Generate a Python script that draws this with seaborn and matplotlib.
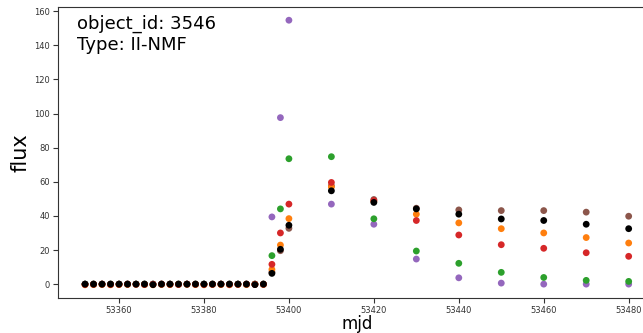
import numpy as np
import pandas as pd
import matplotlib
matplotlib.use("Agg")
import matplotlib.pyplot as plt
import seaborn as sns

# Observation epochs (mjd)
mjd = [53352, 53354, 53356, 53358, 53360, 53362, 53364, 53366, 53368, 53370,
       53372, 53374, 53376, 53378, 53380, 53382, 53384, 53386, 53388, 53390,
       53392, 53394, 53396, 53398, 53400, 53410, 53420, 53430, 53440, 53450,
       53460, 53470, 53480]

early_zero = [0.0] * 22

flux_purple = early_zero + [39.4, 97.6, 154.7, 46.9, 35.1, 14.7, 3.7, 0.6, 0.0, 0.0, 0.0]
flux_green = early_zero + [16.7, 44.1, 73.5, 74.7, 38.3, 19.4, 12.2, 6.9, 3.9, 2.2, 1.6]
flux_brown = early_zero + [7.0, 19.6, 32.7, 57.6, 49.6, 44.5, 43.5, 43.1, 43.1, 42.2, 39.8]
flux_orange = [-0.4, -0.3, -0.2, -0.4, -0.3, -0.2, -0.1, -0.3, -0.4, -0.2, -0.3,
               -0.2, -0.1, -0.3, -0.4, -0.2, -0.3, -0.4, -0.2, -0.3, -0.1, -0.2,
               8.6, 22.9, 38.4, 57.0, 48.5, 41.0, 35.9, 32.5, 30.0, 27.3, 24.1]
flux_red = [-0.2, -0.1, 0.0, -0.2, -0.1, 0.0, -0.1, -0.2, -0.1, 0.0, -0.1,
            -0.2, 0.0, -0.1, -0.2, -0.1, 0.0, -0.2, -0.1, 0.0, -0.2, -0.1,
            11.6, 30.0, 46.9, 59.6, 49.0, 37.3, 28.8, 23.1, 21.0, 18.4, 16.3]
flux_black = [0.0, 0.0, 0.0, 0.0, 0.0, 0.0, 0.0, 0.0, -0.3, 0.0, 0.0,
              0.0, 0.0, 0.0, 0.0, 0.0, 0.0, 0.0, 0.0, 0.0, -0.3, 0.0,
              6.3, 20.4, 34.5, 54.7, 47.9, 44.1, 41.0, 38.2, 37.3, 35.1, 32.5]

bands = ["purple", "green", "brown", "orange", "red", "black"]
band_flux = [flux_purple, flux_green, flux_brown, flux_orange, flux_red, flux_black]
palette = {"purple": "#9467bd", "green": "#2ca02c", "brown": "#8c564b",
           "orange": "#ff7f0e", "red": "#d62728", "black": "#000000"}

frames = [pd.DataFrame({"mjd": mjd, "flux": f, "band": b}) for b, f in zip(bands, band_flux)]
df = pd.concat(frames, ignore_index=True)

sns.set_style("ticks")
plt.rcParams["font.family"] = ["DejaVu Sans"]

fig = plt.figure(figsize=(6.43, 3.33), dpi=100)
ax = fig.add_axes([0.09, 0.105, 0.93, 0.874])

sns.scatterplot(data=df, x="mjd", y="flux", hue="band", palette=palette,
                s=24, linewidth=0, legend=False, ax=ax)

ax.set_xlabel("mjd", fontsize=12, labelpad=0, color="black")
ax.set_ylabel("flux", fontsize=15, labelpad=3, color="black")
ax.tick_params(labelsize=6, length=3.5, width=0.8, pad=2,
               color="#333333", labelcolor="#333333")
ax.set_yticks([0, 20, 40, 60, 80, 100, 120, 140, 160])
for sp in ax.spines.values():
    sp.set_linewidth(0.8)
    sp.set_color("#333333")

ax.text(0.032, 0.975, "object_id: 3546\nType: II-NMF", transform=ax.transAxes,
        va="top", ha="left", fontsize=13, linespacing=1.25, color="black")

fig.savefig("out.png", dpi=100)
